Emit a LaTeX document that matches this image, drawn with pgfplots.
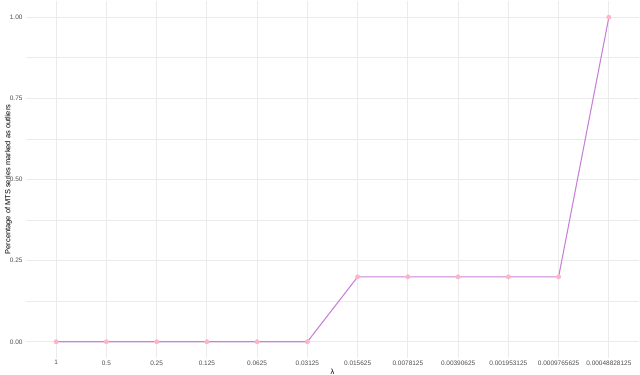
\documentclass[border=0pt]{standalone}
\usepackage{pgfplots}
\pgfplotsset{compat=1.18}
\usepackage{fontspec}
\setmainfont{Liberation Sans}

\definecolor{gridc}{HTML}{EBEBEB}
\definecolor{linec}{HTML}{C882D8}
\definecolor{ptc}{HTML}{FFB3C6}
\definecolor{tickc}{HTML}{4D4D4D}

\begin{document}
\begin{tikzpicture}[x=1bp,y=1bp]
\begin{axis}[
    scale only axis,
    width=613bp, height=357bp,
    xmin=-0.6, xmax=11.6,
    ymin=-0.05, ymax=1.05,
    axis line style={draw=none},
    tick style={draw=none},
    xtick={0,...,11},
    xticklabels={1,0.5,0.25,0.125,0.0625,0.03125,0.015625,0.0078125,0.00390625,0.001953125,0.0009765625,0.00048828125},
    ytick={0,0.25,0.5,0.75,1},
    minor ytick={0.125,0.375,0.625,0.875},
    yticklabel style={/pgf/number format/.cd,fixed,fixed zerofill,precision=2,assume math mode=true},
    ticklabel style={font=\fontsize{6.5}{7}\selectfont, text=tickc},
    xticklabel style={yshift=1bp},
    grid=both,
    major grid style={gridc, line width=1.1bp},
    minor grid style={gridc, line width=0.6bp},
    xlabel={λ},
    ylabel={Percentage of MTS series marked as outliers},
    label style={font=\fontsize{7.5}{8}\selectfont},
    xlabel style={yshift=3bp},
    ylabel style={yshift=-9bp},
]
\addplot[color=linec, line width=1.1bp, no marks] coordinates {
    (0,0) (1,0) (2,0) (3,0) (4,0) (5,0)
    (6,0.2) (7,0.2) (8,0.2) (9,0.2) (10,0.2) (11,1)
};
\addplot[color=ptc, only marks, mark=*, mark size=2.2bp, mark options={draw=ptc, fill=ptc}] coordinates {
    (0,0) (1,0) (2,0) (3,0) (4,0) (5,0)
    (6,0.2) (7,0.2) (8,0.2) (9,0.2) (10,0.2) (11,1)
};
\end{axis}
\pgfresetboundingbox
\path (current axis.south west) ++(-26bp,-17bp) coordinate (bl);
\path (current axis.north east) ++(1bp,1bp) coordinate (tr);
\useasboundingbox (bl) rectangle (tr);
\end{tikzpicture}
\end{document}
